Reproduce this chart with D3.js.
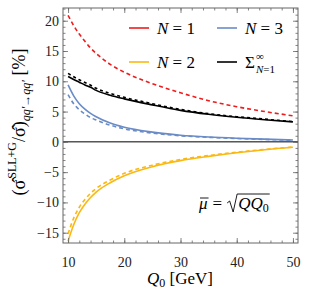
<!DOCTYPE html>
<html>
<head>
<meta charset="utf-8">
<script src="https://cdn.jsdelivr.net/npm/d3@7"></script>
<style>
  body { margin: 0; background: #fff; }
</style>
</head>
<body>
<svg id="chart" width="309" height="296"></svg>
<script>
// Q0 values (GeV) shared by all curves
const q0 = [10, 11, 12, 13, 14, 15, 17.5, 20, 25, 30, 35, 40, 45, 50];

// percentages
const n1Dashed = [20.9, 19.2, 17.8, 16.6, 15.5, 14.6, 12.8, 11.5, 9.6, 8.1, 6.8, 5.8, 5.0, 4.3];
const n2Solid = [-16.4, -13.7, -11.7, -10.3, -9.2, -8.3, -6.75, -5.6, -4.1, -3.1, -2.4, -1.8, -1.3, -0.9];
const n2Dashed = [-15.2, -12.6, -10.8, -9.5, -8.5, -7.7, -6.3, -5.2, -3.85, -2.9, -2.25, -1.7, -1.25, -0.85];
const n3Solid = [9.4, 7.6, 6.3, 5.4, 4.7, 4.15, 3.1, 2.4, 1.6, 1.1, 0.8, 0.6, 0.45, 0.3];
const n3Dashed = [7.8, 6.3, 5.3, 4.6, 4.0, 3.6, 2.75, 2.15, 1.45, 1.0, 0.75, 0.55, 0.4, 0.25];
const sumSolid = [10.8, 10.3, 9.85, 9.4, 9.0, 8.5, 7.7, 7.1, 6.1, 5.2, 4.55, 4.05, 3.65, 3.3];
const sumDashed = [11.3, 10.75, 10.25, 9.8, 9.35, 8.85, 8.0, 7.35, 6.3, 5.35, 4.65, 4.15, 3.75, 3.35];

const xTicks = [10, 20, 30, 40, 50];
const yTicks = [-15, -10, -5, 0, 5, 10, 15, 20];

const red = "#ee1c1c", yellow = "#fbb812", blue = "#6a8cc6";
const serif = "'Liberation Serif'";

const frame = { left: 63, right: 298, top: 8, bottom: 243 };

const svg = d3.select("#chart");

const x = d3.scaleLinear().domain([9.1, 50.9]).range([frame.left, frame.right]);
const y = d3.scaleLinear().domain([-16.7, 22.1]).range([frame.bottom, frame.top]);

// curves
const series = [
  { v: n1Dashed, color: red, dash: "4,3" },
  { v: n2Dashed, color: yellow, dash: "4,3" },
  { v: n2Solid, color: yellow, dash: null },
  { v: n3Dashed, color: blue, dash: "4,3" },
  { v: n3Solid, color: blue, dash: null },
  { v: sumDashed, color: "#000", dash: "3,3" },
  { v: sumSolid, color: "#000", dash: null },
];

svg.append("clipPath").attr("id", "clip")
  .append("rect")
  .attr("x", frame.left).attr("y", frame.top)
  .attr("width", frame.right - frame.left).attr("height", frame.bottom - frame.top);

const line = d3.line()
  .x((d, i) => x(q0[i]))
  .y(d => y(d))
  .curve(d3.curveMonotoneX);

// zero line
svg.append("line")
  .attr("x1", frame.left).attr("x2", frame.right)
  .attr("y1", y(0)).attr("y2", y(0))
  .attr("stroke", "#000").attr("stroke-width", 1);

svg.append("g").attr("clip-path", "url(#clip)")
  .selectAll("path")
  .data(series)
  .join("path")
  .attr("d", d => line(d.v))
  .attr("fill", "none")
  .attr("stroke", d => d.color)
  .attr("stroke-width", 1.6)
  .attr("stroke-dasharray", d => d.dash);

// frame with inward ticks
const frameColor = "#666";
const minorX = d3.range(10, 51, 2), minorY = d3.range(-16, 23, 1);
svg.append("g").attr("transform", `translate(0,${frame.bottom})`)
  .call(d3.axisBottom(x).tickValues(minorX).tickSizeInner(-2.5).tickSizeOuter(0).tickFormat(""));
svg.append("g").attr("transform", `translate(0,${frame.bottom})`)
  .call(d3.axisBottom(x).tickValues(xTicks).tickSizeInner(-5).tickSizeOuter(0).tickPadding(14));
svg.append("g").attr("transform", `translate(0,${frame.top})`)
  .call(d3.axisTop(x).tickValues(minorX).tickSizeInner(-2.5).tickSizeOuter(0).tickFormat(""));
svg.append("g").attr("transform", `translate(0,${frame.top})`)
  .call(d3.axisTop(x).tickValues(xTicks).tickSizeInner(-5).tickSizeOuter(0).tickFormat(""));

svg.append("g").attr("transform", `translate(${frame.left},0)`)
  .call(d3.axisLeft(y).tickValues(minorY).tickSizeInner(-2.5).tickSizeOuter(0).tickFormat(""));
svg.append("g").attr("transform", `translate(${frame.left},0)`)
  .call(d3.axisLeft(y).tickValues(yTicks).tickSizeInner(-5).tickSizeOuter(0).tickPadding(4)
    .tickFormat(d => d < 0 ? "\u2212" + Math.abs(d) : d));
svg.append("g").attr("transform", `translate(${frame.right},0)`)
  .call(d3.axisRight(y).tickValues(minorY).tickSizeInner(-2.5).tickSizeOuter(0).tickFormat(""));
svg.append("g").attr("transform", `translate(${frame.right},0)`)
  .call(d3.axisRight(y).tickValues(yTicks).tickSizeInner(-5).tickSizeOuter(0).tickFormat(""));

svg.selectAll(".domain").remove();
svg.selectAll(".tick line").attr("stroke", frameColor).attr("stroke-width", 0.8);
svg.selectAll(".tick text").attr("font-size", 14).attr("fill", "#222");

svg.append("rect")
  .attr("x", frame.left).attr("y", frame.top)
  .attr("width", frame.right - frame.left).attr("height", frame.bottom - frame.top)
  .attr("fill", "none").attr("stroke", frameColor).attr("stroke-width", 1);

// legend
const legend = [
  { label: "N", num: "1", color: red, col: 0, row: 0 },
  { label: "N", num: "3", color: blue, col: 1, row: 0 },
  { label: "N", num: "2", color: yellow, col: 0, row: 1 },
  { label: "sum", num: "", color: "#000", col: 1, row: 1 },
];
const lg = svg.append("g");
legend.forEach(d => {
  const lx = 129 + d.col * 88;
  const ly = 28 + d.row * 34;
  lg.append("line")
    .attr("x1", lx).attr("x2", lx + 20).attr("y1", ly).attr("y2", ly)
    .attr("stroke", d.color).attr("stroke-width", 1.6);
  if (d.label === "N") {
    const t = lg.append("text").attr("x", lx + 28).attr("y", ly + 5.5).attr("font-size", 17);
    t.append("tspan").attr("font-style", "italic").text("N");
    t.append("tspan").text(" = " + d.num);
  } else {
    lg.append("text").attr("x", lx + 28).attr("y", ly + 5.5).attr("font-size", 17).text("\u03A3");
    lg.append("text").attr("x", lx + 39).attr("y", ly - 2.5).attr("font-size", 11).text("\u221E");
    const s = lg.append("text").attr("x", lx + 39).attr("y", ly + 10.5).attr("font-size", 11);
    s.append("tspan").attr("font-style", "italic").text("N");
    s.append("tspan").text("=1");
  }
});

// scale annotation: mu-bar = sqrt(Q Q0)
const ann = svg.append("g").attr("font-size", 17);
const muT = ann.append("text").attr("x", 199).attr("y", 209).attr("font-style", "italic")
  .style("font-family", serif).text("\u03BC");
const muW = muT.node().getComputedTextLength();
ann.append("line")
  .attr("x1", 200).attr("x2", 199 + muW + 1).attr("y1", 198).attr("y2", 198)
  .attr("stroke", "#000").attr("stroke-width", 0.9);
const eqT = ann.append("text").attr("x", 199 + muW + 5).attr("y", 209)
  .style("font-family", serif).text("=");
const eqEnd = 199 + muW + 5 + eqT.node().getComputedTextLength();
const rootX = eqEnd + 5;
const qq = ann.append("text").attr("x", rootX + 11).attr("y", 209).style("font-family", serif);
qq.append("tspan").attr("font-style", "italic").text("QQ");
qq.append("tspan").attr("font-size", 12).attr("dy", 3).text("0");
const qqW = qq.node().getComputedTextLength();
ann.append("path")
  .attr("d", `M${rootX},203 L${rootX + 2.5},201 L${rootX + 6},212 L${rootX + 10},194 L${rootX + 12 + qqW},194`)
  .attr("fill", "none").attr("stroke", "#000").attr("stroke-width", 0.9);

// x label
const xl = svg.append("text").attr("x", 180).attr("y", 284).attr("text-anchor", "middle")
  .attr("font-size", 17);
xl.append("tspan").attr("font-style", "italic").text("Q");
xl.append("tspan").attr("font-size", 12).attr("dy", 3).text("0");
xl.append("tspan").attr("dy", -3).text(" [GeV]");

// y label
const yl = svg.append("text")
  .attr("transform", `translate(25,${122}) rotate(-90)`)
  .attr("text-anchor", "middle").attr("font-size", 18);
yl.append("tspan").text("(\u03C3\u0302");
yl.append("tspan").attr("font-size", 12).attr("dx", 1).attr("dy", -9).text("SLL+G");
yl.append("tspan").attr("dy", 9).text("/\u03C3\u0302)");
yl.append("tspan").attr("font-size", 12).attr("font-style", "italic").attr("dy", 5).text("qq\u2032\u2192qq\u2032");
yl.append("tspan").attr("dy", -5).text("  [%]");

// serif everywhere
svg.selectAll("text").style("font-family", serif);
</script>
</body>
</html>
